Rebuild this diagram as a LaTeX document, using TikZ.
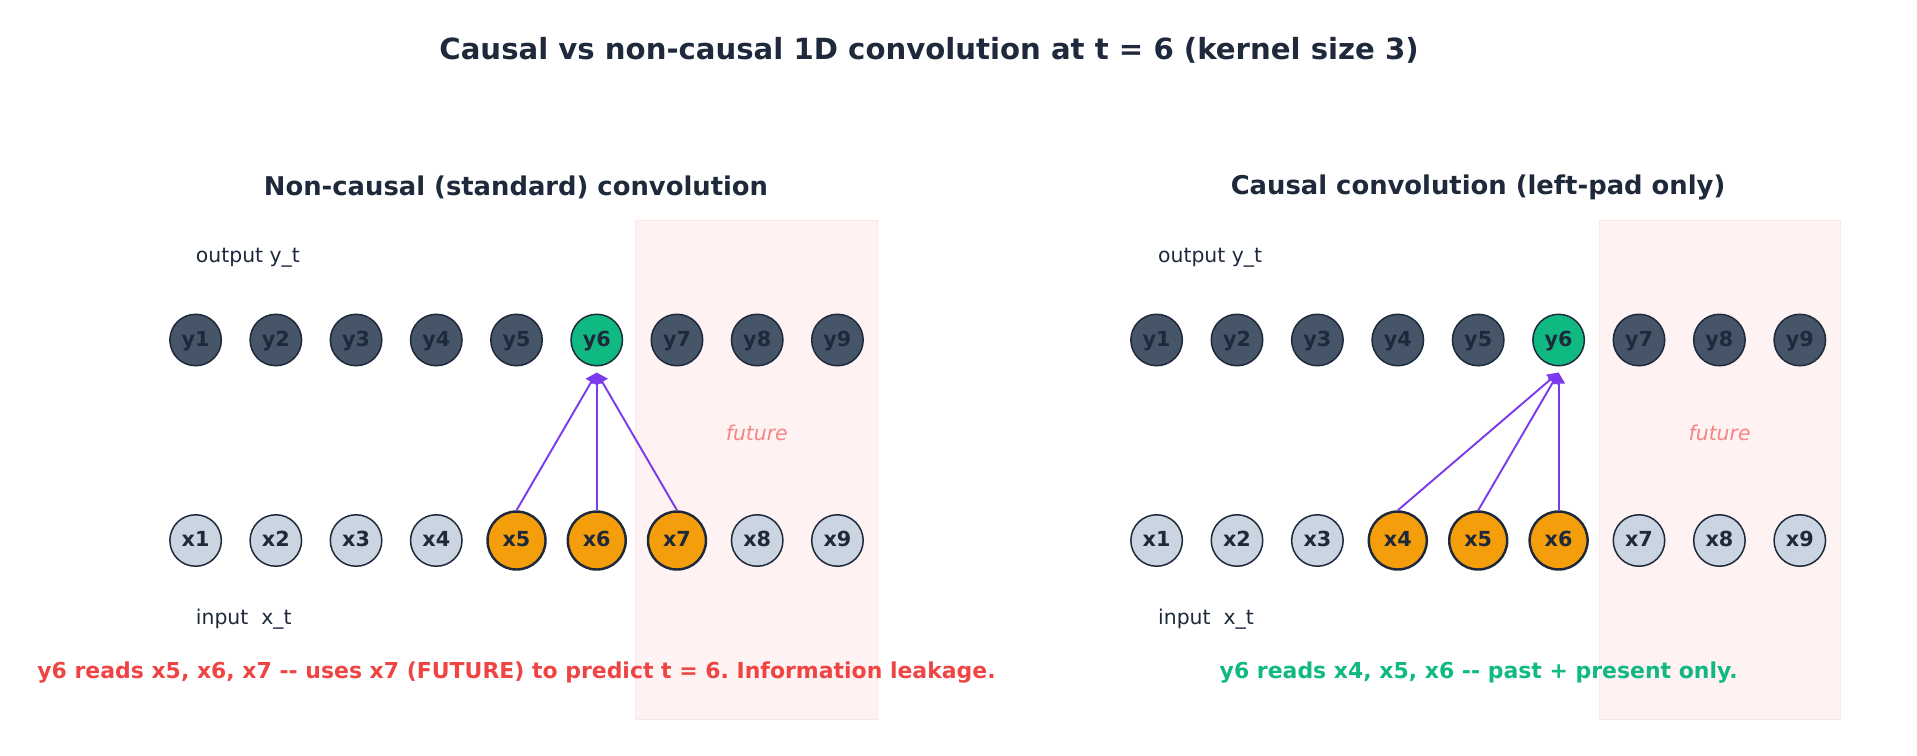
\documentclass[tikz,border=0pt]{standalone}
\usepackage{fontspec}
\setmainfont{DejaVu Sans}
\usepackage{xcolor}
\usetikzlibrary{arrows.meta,calc,positioning}
\definecolor{ink}{HTML}{1E293B}
\definecolor{slate}{HTML}{475569}
\definecolor{pale}{HTML}{CBD5E1}
\definecolor{amber}{HTML}{F59E0B}
\definecolor{grn}{HTML}{10B981}
\definecolor{vio}{HTML}{7C3AED}
\definecolor{warn}{HTML}{EF4444}
\newcommand{\pt}[1]{\fontsize{#1}{#1}\selectfont}
\frenchspacing

\begin{document}
\begin{tikzpicture}[
    x=0.02cm, y=-0.02cm,
    yn/.style  ={circle, minimum size=1.03cm, inner sep=0pt, draw=ink,
                 line width=0.85pt, fill=slate, text=ink,
                 text height=1.55ex, text depth=0.3ex,
                 font=\pt{11.8}\bfseries},
    xn/.style  ={yn, fill=pale},
    ysel/.style={yn, fill=grn},
    xsel/.style={yn, fill=amber, minimum size=1.16cm, line width=1.4pt},
    arr/.style ={-{Triangle[length=0.22cm, width=0.25cm]}, line width=1.1pt,
                 draw=vio},
    band/.style={fill=warn!7, draw=warn!14, line width=0.5pt},
    lbl/.style ={font=\pt{11.6}, text=ink, inner sep=0pt, anchor=west},
    fut/.style ={font=\pt{11.6}\itshape, text=warn!65},
    ttl/.style ={font=\pt{16.6}\bfseries, text=ink},
    sub/.style ={font=\pt{14.7}\bfseries, text=ink},
    note/.style={font=\pt{12.5}\bfseries},
  ]
  \useasboundingbox (0,0) rectangle (1917,755);
  \node[ttl] (title) at (929,50) {Causal vs non-causal 1D convolution at t = 6 (kernel size 3)};
  % future regions
  \fill[band] (635.8,220) rectangle (877.8,719);
  \fill[band] (1599,220) rectangle (1840,719);
  % left panel: non-causal
  \node[sub] (ltitle) at (516,187) {Non-causal (standard) convolution};
  \node[lbl] (lout) at (195.6,258) {output y\_t};
  \node[lbl] (lin) at (195.6,619) {input\ \ x\_t};
  \node[fut] (lfut) at (756.8,433) {future};
  \foreach \i/\s in {1/yn,2/yn,3/yn,4/yn,5/yn,6/ysel,7/yn,8/yn,9/yn}
    \node[\s] (ly\i) at ({195.6+80.23*(\i-1)},340) {y\i};
  \foreach \i/\s in {1/xn,2/xn,3/xn,4/xn,5/xsel,6/xsel,7/xsel,8/xn,9/xn}
    \node[\s] (lx\i) at ({195.6+80.23*(\i-1)},540.5) {x\i};
  \coordinate (ltip) at ($(ly6.south)+(0,6)$);
  \foreach \i in {5,6,7}
    \draw[arr] (lx\i.north) -- (ltip);
  \node[note, text=warn] (lnote) at (516.5,672.4)
       {y6 reads x5, x6, x7 -\kern0pt- uses x7 (FUTURE) to predict t = 6. Information leakage.};
  % right panel: causal
  \node[sub] (rtitle) at (1478,187) {Causal convolution (left-pad only)};
  \node[lbl] (rout) at (1157.8,258) {output y\_t};
  \node[lbl] (rin) at (1157.8,619) {input\ \ x\_t};
  \node[fut] (rfut) at (1719.6,433) {future};
  \foreach \i/\s in {1/yn,2/yn,3/yn,4/yn,5/yn,6/ysel,7/yn,8/yn,9/yn}
    \node[\s] (ry\i) at ({1156.6+80.4*(\i-1)},340) {y\i};
  \foreach \i/\s in {1/xn,2/xn,3/xn,4/xsel,5/xsel,6/xsel,7/xn,8/xn,9/xn}
    \node[\s] (rx\i) at ({1156.6+80.4*(\i-1)},540.5) {x\i};
  \coordinate (rtip) at ($(ry6.south)+(0,6)$);
  \foreach \i in {4,5,6}
    \draw[arr] (rx\i.north) -- (rtip);
  \node[note, text=grn] (rnote) at (1478.7,672.4)
       {y6 reads x4, x5, x6 -\kern0pt- past + present only.};
\end{tikzpicture}
\end{document}
